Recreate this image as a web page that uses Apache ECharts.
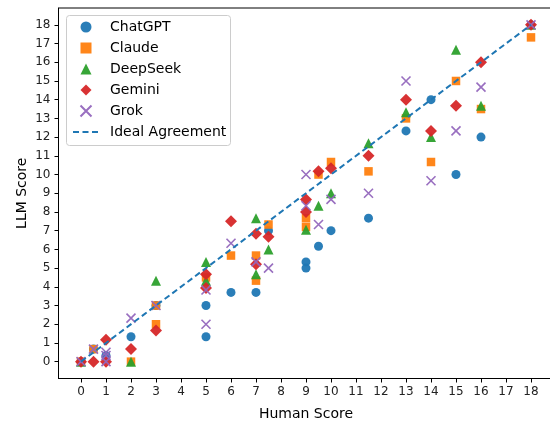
<!DOCTYPE html>
<html>
<head>
<meta charset="utf-8">
<script src="https://cdn.jsdelivr.net/npm/echarts@6/dist/echarts.min.js"></script>
<style>html,body{margin:0;padding:0;background:#fff}#c{width:550px;height:422px}</style>
</head>
<body>
<div id="c"></div>
<script>
var tickValues = [0,1,2,3,4,5,6,7,8,9,10,11,12,13,14,15,16,17,18];
var chatgpt = [[0,0],[0.5,0.67],[1,0.33],[2,1.33],[3,3],[5,3],[5,1.33],[6,3.7],[7,3.7],[7.5,7],[9,5.33],[9,5],[9.5,6.17],[10,7],[11.5,7.67],[13,12.33],[14,14],[15,10],[16,12],[18,18]];
var claude = [[0,0],[0.5,0.67],[2,0],[3,2],[3,3],[5,4.5],[6,5.67],[7,5.67],[7,4.33],[7.5,7.33],[9,7.67],[9,7.2],[9.5,10],[10,10.67],[11.5,10.17],[13,13],[14,10.67],[15,15],[16,13.5],[18,17.33]];
var deepseek = [[0,0],[2,0],[3,4.33],[5,5.33],[5,4.33],[7,7.67],[7,4.67],[7.5,6],[9,7.05],[9.5,8.33],[10,9],[11.5,11.67],[13,13.33],[14,12],[15,16.67],[16,13.67],[18,18]];
var gemini = [[0,0],[0.5,0],[1,0],[1,1.17],[2,0.67],[3,1.67],[5,4.67],[5,3.93],[6,7.5],[7,6.83],[7,5.2],[7.5,6.67],[9,8.67],[9,8],[9.5,10.17],[10,10.33],[11.5,11],[13,14],[14,12.33],[15,13.67],[16,16],[18,18]];
var grok = [[0,0],[0.5,0.67],[1,0],[1,0.33],[1,0.5],[2,2.33],[3,3],[5,3.83],[5,2],[6,6.33],[7,5.33],[7.5,5],[9,10],[9,8.33],[9.5,7.33],[10,8.67],[11.5,9],[13,15],[14,9.67],[15,12.33],[16,14.67],[18,18]];
var ideal = [[0,0],[18,18]];
var lineName = 'Ideal Agreement';

var FONT = 'DejaVu Sans';
var XPATH = 'path://M0,0L10,10M10,0L0,10';
var chart = echarts.init(document.getElementById('c'), null, {renderer:'canvas'});
function sc(name, data, symbol, size, color) {
  return {
    name: name, type: 'scatter', data: data, symbol: symbol, symbolSize: size,
    itemStyle: {color: color, opacity: 0.95},
    emphasis: {disabled: true}
  };
}
var option = {
  animation: false,
  textStyle: {fontFamily: FONT},
  grid: {left: 58.5, top: 8, width: 495, height: 370.5, show: true, borderColor: '#000', borderWidth: 1, containLabel: false, outerBoundsMode: 'none'},
  graphic: [{
    type: 'rect', left: 66, top: 15, z: 10, silent: true,
    shape: {width: 164, height: 130, r: 3},
    style: {fill: 'rgba(255,255,255,0.8)', stroke: '#cccccc', lineWidth: 1}
  }],
  legend: [{
    orient: 'vertical', left: 79.5, top: 20, z: 11,
    padding: 0,
    itemWidth: 11, itemHeight: 11, itemGap: 7,
    textStyle: {fontFamily: FONT, fontSize: 14, color: '#000', padding: [0,0,0,13.5]},
    data: [
      {name: 'ChatGPT', icon: 'circle'},
      {name: 'Claude', icon: 'rect'},
      {name: 'DeepSeek', icon: 'triangle'},
      {name: 'Gemini', icon: 'diamond'},
      {name: 'Grok', icon: XPATH}
    ]
  }, {
    orient: 'vertical', left: 72, top: 125, z: 11,
    padding: 0,
    itemWidth: 26, itemHeight: 11,
    itemStyle: {color: 'rgba(0,0,0,0)', borderWidth: 0},
    textStyle: {fontFamily: FONT, fontSize: 14, color: '#000', padding: [0,0,0,6]},
    data: [lineName]
  }],
  xAxis: {
    type: 'value', min: -0.9, max: 18.9,
    name: 'Human Score', nameLocation: 'middle', nameGap: 29,
    nameTextStyle: {fontFamily: FONT, fontSize: 14, color: '#000'},
    axisLine: {show: true, onZero: false, lineStyle: {color: '#000'}},
    axisTick: {show: true, length: 4, customValues: tickValues, lineStyle: {color: '#000'}},
    axisLabel: {customValues: tickValues, fontFamily: FONT, fontSize: 12, color: '#222', margin: 7},
    splitLine: {show: false}
  },
  yAxis: {
    type: 'value', min: -0.9, max: 18.9,
    name: 'LLM Score', nameLocation: 'middle', nameGap: 29, nameRotate: 90, nameMoveOverlap: false,
    nameTextStyle: {fontFamily: FONT, fontSize: 14, color: '#000'},
    axisLine: {show: true, onZero: false, lineStyle: {color: '#000'}},
    axisTick: {show: true, length: 4, customValues: tickValues, lineStyle: {color: '#000'}},
    axisLabel: {customValues: tickValues, fontFamily: FONT, fontSize: 12, color: '#222', margin: 8},
    splitLine: {show: false}
  },
  series: [
    sc('ChatGPT', chatgpt, 'circle', 9, '#1f77b4'),
    sc('Claude', claude, 'rect', 8.5, '#ff7f0e'),
    sc('DeepSeek', deepseek, 'triangle', 10, '#2ca02c'),
    sc('Gemini', gemini, 'diamond', 12, '#d62728'),
    {
      name: 'Grok', type: 'scatter', data: grok,
      symbol: XPATH, symbolSize: 9,
      itemStyle: {color: 'rgba(0,0,0,0)', borderColor: '#9467bd', borderWidth: 1.6, opacity: 0.95},
      emphasis: {disabled: true}
    },
    {
      name: lineName, type: 'line', data: ideal, symbol: 'none', z: 5,
      lineStyle: {color: '#1f77b4', width: 2, type: [6, 3.5]},
      itemStyle: {color: '#1f77b4'},
      emphasis: {disabled: true}
    }
  ]
};
chart.setOption(option);
</script>
</body>
</html>
